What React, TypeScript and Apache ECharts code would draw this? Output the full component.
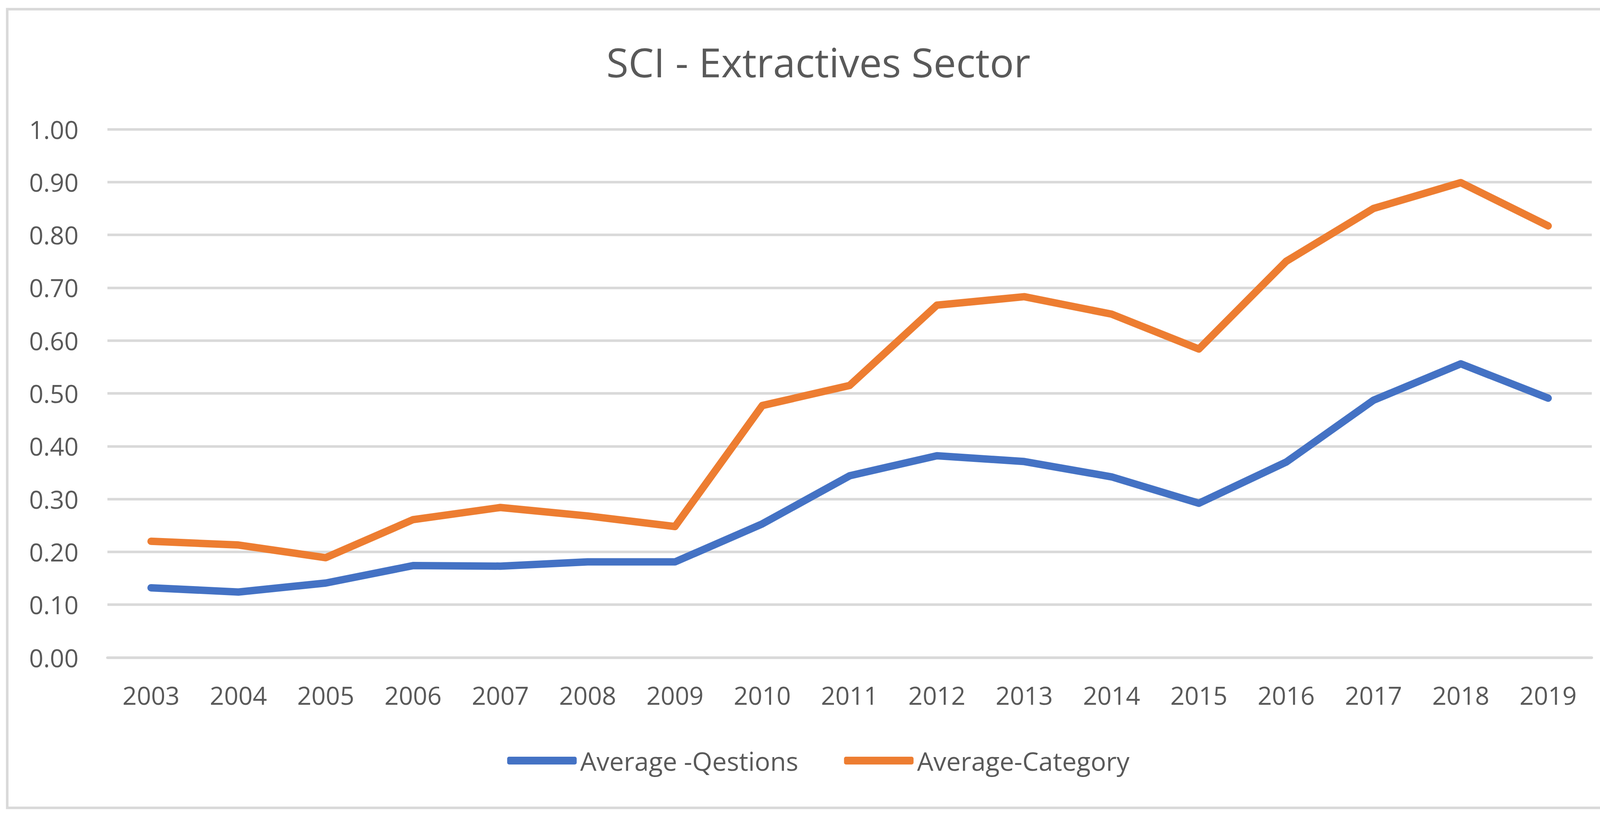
import React, { useEffect, useRef } from "react";
import * as echarts from "echarts";

const years = ["2003","2004","2005","2006","2007","2008","2009","2010","2011","2012","2013","2014","2015","2016","2017","2018","2019"];
const averageQuestions = [0.132, 0.124, 0.141, 0.174, 0.173, 0.181, 0.181, 0.253, 0.344, 0.382, 0.371, 0.342, 0.292, 0.370, 0.487, 0.556, 0.491];
const averageCategory = [0.220, 0.213, 0.189, 0.261, 0.284, 0.268, 0.248, 0.477, 0.515, 0.667, 0.683, 0.650, 0.584, 0.750, 0.850, 0.899, 0.817];
const seriesNames = ["Average -Qestions", "Average-Category"];
const titleText = "SCI - Extractives Sector";

const FONT = "'Open Sans', 'Noto Sans', sans-serif";
const TEXT = "#595959";
const GRID = "#D9D9D9";

export default function App() {
  const ref = useRef<HTMLDivElement>(null);
  useEffect(() => {
    document.body.style.margin = "0";
    const chart = echarts.init(ref.current!, undefined, { renderer: "svg" });
    chart.setOption({
      animation: false,
      backgroundColor: "#ffffff",
      textStyle: { fontFamily: FONT },
      title: {
        text: titleText,
        left: "center",
        top: 106,
        padding: 0,
        textStyle: { fontFamily: FONT, fontSize: 103, lineHeight: 103, fontWeight: "normal", color: TEXT },
      },
      graphic: [
        {
          type: "rect",
          shape: { x: 18.5, y: 23.5, width: 4150, height: 2045.5 },
          style: { fill: "none", stroke: GRID, lineWidth: 6.5 },
          silent: true,
        },
      ],
      legend: {
        data: seriesNames,
        left: "center",
        top: 1915,
        padding: 0,
        itemWidth: 178,
        itemHeight: 20,
        itemGap: 117,
        icon: "roundRect",
        textStyle: { fontFamily: FONT, fontSize: 66, lineHeight: 66, color: TEXT, padding: [0, 0, 0, 4] },
      },
      grid: { left: 275, right: 115, top: 331, bottom: 411, containLabel: false },
      xAxis: {
        type: "category",
        data: years,
        boundaryGap: true,
        axisLine: { show: true, lineStyle: { color: GRID, width: 6.5 } },
        axisTick: { show: false },
        axisLabel: { fontFamily: FONT, fontSize: 64, lineHeight: 64, color: TEXT, margin: 64, interval: 0 },
        splitLine: { show: false },
      },
      yAxis: {
        type: "value",
        min: 0,
        max: 1,
        interval: 0.1,
        axisLine: { show: false },
        axisTick: { show: false },
        axisLabel: {
          fontFamily: FONT,
          fontSize: 64,
          color: TEXT,
          margin: 74,
          formatter: (v: number) => v.toFixed(2),
        },
        splitLine: { show: true, lineStyle: { color: GRID, width: 6.5 } },
      },
      series: [
        {
          name: seriesNames[0],
          type: "line",
          data: averageQuestions,
          symbol: "none",
          color: "#4472C4",
          lineStyle: { width: 19, color: "#4472C4", cap: "round", join: "round" },
        },
        {
          name: seriesNames[1],
          type: "line",
          data: averageCategory,
          symbol: "none",
          color: "#ED7D31",
          lineStyle: { width: 19, color: "#ED7D31", cap: "round", join: "round" },
        },
      ],
    });
    return () => chart.dispose();
  }, []);
  return <div ref={ref} style={{ width: 4190, height: 2095 }} />;
}
